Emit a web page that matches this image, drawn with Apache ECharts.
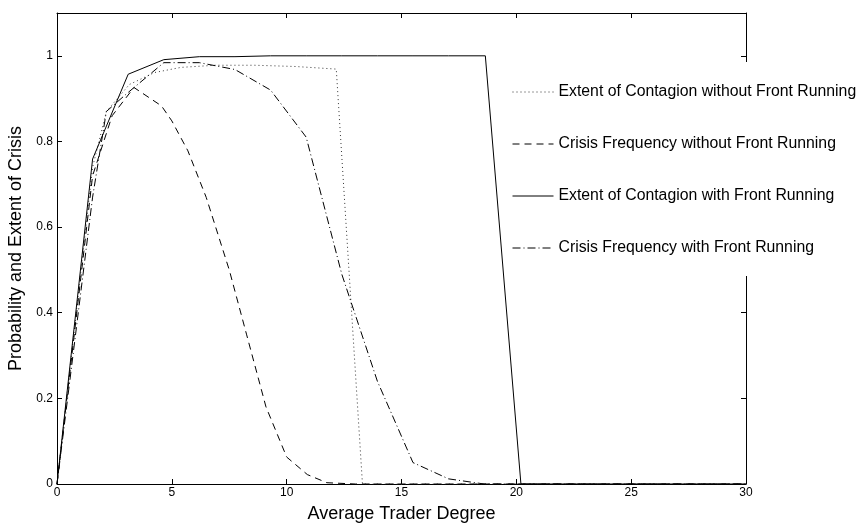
<!DOCTYPE html>
<html>
<head>
<meta charset="utf-8">
<script src="https://cdn.jsdelivr.net/npm/echarts@6/dist/echarts.min.js"></script>
<style>
html, body { margin: 0; padding: 0; background: #fff; }
#chart { width: 861px; height: 523px; }
</style>
</head>
<body>
<div id="chart"></div>
<script>
// legend names
var seriesNames = [
	'Extent of Contagion without Front Running',
	'Crisis Frequency without Front Running',
	'Extent of Contagion with Front Running',
	'Crisis Frequency with Front Running'
];

// [average trader degree, value]
var extentNoFR = [[0,0],[1.55,0.74],[2.15,0.87],[3.15,0.933],[4.25,0.961],[5.4,0.973],[6.9,0.978],[8.6,0.978],[10.4,0.975],[12.16,0.969],[13.3,0],[30,0]];
var crisisNoFR = [[0,0],[1.55,0.72],[2.4,0.86],[3.35,0.926],[4.55,0.883],[5.0,0.848],[5.7,0.778],[6.5,0.669],[7.5,0.5],[8.25,0.35],[9.1,0.18],[10.0,0.063],[10.9,0.022],[11.75,0.003],[13,0],[30,0]];
var extentFR = [[0,0],[1.55,0.759],[3.1,0.957],[4.65,0.991],[6.2,0.998],[7.75,0.998],[9.3,1.0],[10.85,1.0],[12.4,1.0],[13.95,1.0],[15.5,1.0],[17.05,1.0],[18.65,1.0],[20.2,0],[30,0]];
var crisisFR = [[0,0],[1.55,0.67],[2.15,0.87],[3.0,0.91],[4.65,0.984],[6.2,0.984],[7.75,0.968],[9.3,0.92],[10.85,0.81],[12.4,0.49],[13.95,0.24],[15.5,0.05],[17.05,0.012],[18.6,0],[30,0]];

var xTicks = { min: 0, max: 30, interval: 5 };
var yTicks = { min: 0, max: 1.1, interval: 0.2 };

var font = 'Liberation Sans, Arial, Helvetica, sans-serif';
var chart = echarts.init(document.getElementById('chart'));

function axisCommon(extra) {
	var base = {
		type: 'value',
		axisLine: { show: true, onZero: false, lineStyle: { color: '#000', width: 1 } },
		axisTick: { show: true, inside: true, length: 5, lineStyle: { color: '#000' } },
		splitLine: { show: false },
		axisLabel: { color: '#000', fontSize: 12, fontFamily: font }
	};
	for (var k in extra) base[k] = extra[k];
	return base;
}

function lineSeries(name, data, color, type) {
	return {
		name: name,
		type: 'line',
		data: data,
		symbol: 'none',
		showSymbol: false,
		lineStyle: { color: color, width: 1, type: type },
		itemStyle: { color: color }
	};
}

chart.setOption({
	animation: false,
	backgroundColor: '#fff',
	grid: { left: 57, right: 115, top: 13, bottom: 39, outerBoundsMode: 'none', containLabel: false },
	legend: {
		orient: 'vertical',
		left: 505,
		top: 62,
		padding: [22, 6, 20, 7],
		backgroundColor: '#fff',
		itemWidth: 41,
		itemHeight: 14,
		itemGap: 36,
		z: 10,
		textStyle: { color: '#000', fontSize: 15.8, fontFamily: font, lineHeight: 14 },
		itemStyle: { opacity: 0 },
		lineStyle: { width: 1 },
		data: seriesNames
	},
	xAxis: [
		axisCommon({
			min: xTicks.min, max: xTicks.max, interval: xTicks.interval,
			name: 'Average Trader Degree',
			nameLocation: 'middle',
			nameGap: 21,
			nameTextStyle: { color: '#000', fontSize: 18, fontFamily: font },
			axisLabel: { color: '#000', fontSize: 12, fontFamily: font, margin: 3 }
		}),
		axisCommon({
			position: 'top',
			min: xTicks.min, max: xTicks.max, interval: xTicks.interval,
			axisLabel: { show: false }
		})
	],
	yAxis: [
		axisCommon({
			min: yTicks.min, max: yTicks.max, interval: yTicks.interval,
			name: 'Probability and Extent of Crisis',
			nameLocation: 'middle',
			nameGap: 21,
			nameTextStyle: { color: '#000', fontSize: 18, fontFamily: font },
			axisLabel: {
				color: '#000', fontSize: 12, fontFamily: font, margin: 4,
				formatter: function (v) { return v > 1.05 ? '' : String(Math.round(v * 10) / 10); }
			}
		}),
		axisCommon({
			position: 'right',
			min: yTicks.min, max: yTicks.max, interval: yTicks.interval,
			axisLabel: { show: false }
		})
	],
	series: [
		lineSeries(seriesNames[0], extentNoFR, '#333', [1, 3]),
		lineSeries(seriesNames[1], crisisNoFR, '#000', [7, 5]),
		lineSeries(seriesNames[2], extentFR, '#000', 'solid'),
		lineSeries(seriesNames[3], crisisFR, '#000', [8, 3, 1, 3])
	]
});
</script>
</body>
</html>
